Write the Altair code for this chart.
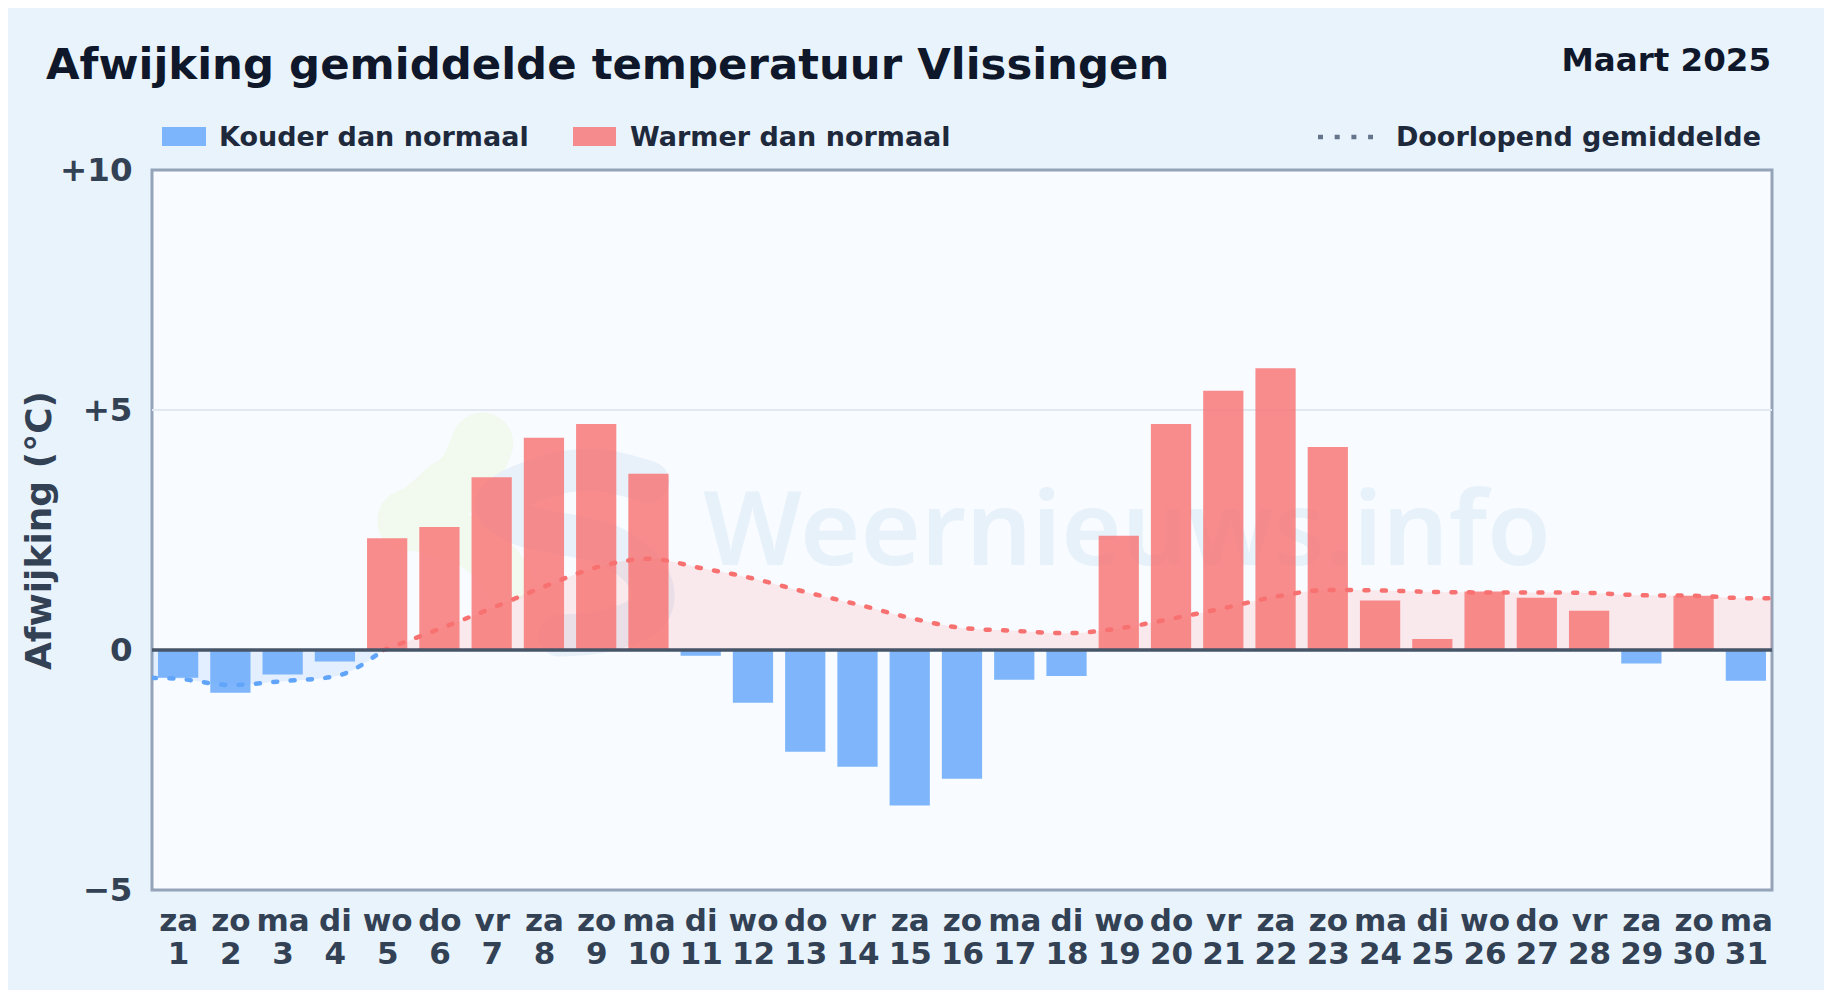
import altair as alt
import pandas as pd

DOW = ["za","zo","ma","di","wo","do","vr","za","zo","ma","di","wo","do","vr","za","zo","ma","di","wo","do","vr","za","zo","ma","di","wo","do","vr","za","zo","ma"]
DAYS = list(range(1, 32))
DEV = [-0.58,-0.89,-0.51,-0.24,2.33,2.56,3.60,4.42,4.71,3.67,-0.12,-1.10,-2.12,-2.43,-3.24,-2.68,-0.62,-0.54,2.38,4.71,5.40,5.87,4.23,1.03,0.23,1.22,1.09,0.82,-0.28,1.13,-0.64]

COLD_X = [0.5,1,2,3,4,4.93]
COLD_Y = [-0.58,-0.60,-0.73,-0.65,-0.55,0.0]
WARM_X = [4.93,6,7,8,9,10,11,12,13,14,15,16,17,18,19,20,21,22,23,24,25,26,27,28,29,30,31,31.5]
WARM_Y = [0.0,0.44,0.87,1.32,1.72,1.90,1.71,1.49,1.21,0.95,0.67,0.46,0.40,0.35,0.45,0.65,0.87,1.11,1.25,1.24,1.21,1.20,1.20,1.19,1.14,1.13,1.08,1.08]

LOGO_GREEN_X = [6.82,6.6,6.15,5.6,5.4]
LOGO_GREEN_Y = [4.3,3.75,3.3,2.8,2.7]
LOGO_GREEN2_X = [5.5,6.9,7.3]
LOGO_GREEN2_Y = [2.6,2.0,1.5]
LOGO_BLUE_X = [10.0,9.0,8.0,7.1,7.6,9.2,10.0,10.0,9.2,8.3]
LOGO_BLUE_Y = [3.5,3.75,3.6,3.1,2.6,2.2,1.5,0.8,0.4,0.3]

BG = "#e8f3fc"
PANEL = "#f8fbff"
RED = "#f87171"
BLUE = "#60a5fa"
INK = "#0f172a"
SLATE = "#334155"
LEG = "#1e293b"
FONT = "DejaVu Sans"

X0, X1 = 0.5, 31.5
x_scale = alt.Scale(domain=[X0, X1], nice=False, zero=False, padding=0)
y_scale = alt.Scale(domain=[-5, 10], nice=False, zero=False, padding=0)

dow_str = " ".join(DOW)
x_axis = alt.Axis(
    values=DAYS, title=None, domain=False, ticks=False, grid=False,
    labelExpr=f"[split('{dow_str}',' ')[datum.value-1], ''+datum.value]",
    labelFontSize=31, labelFont=FONT, labelFontWeight="bold", labelColor=SLATE,
    labelPadding=16, labelLineHeight=33.5, labelOverlap=False, labelFlush=False, labelBound=False,
    labelAngle=0,
)
y_axis = alt.Axis(
    values=[-5, 0, 5, 10], title="Afwijking (°C)", domain=False, ticks=False, grid=False,
    labelExpr="datum.value>0 ? '+'+datum.value : (datum.value<0 ? '−'+abs(datum.value) : '0')",
    labelFontSize=32.5, labelFont=FONT, labelFontWeight="bold", labelColor=SLATE, labelPadding=20,
    titleFontSize=36, titleFont=FONT, titleFontWeight="bold", titleColor=SLATE,
    titleX=-113, titleY=360, titleBaseline="middle", titleAlign="center", titleAngle=270,
)

bars = pd.DataFrame({"day": DAYS, "dev": DEV, "base": [0] * 31})
bars["x0"] = bars.day - 0.385
bars["x1"] = bars.day + 0.385
bars["kind"] = ["warm" if v > 0 else "cold" for v in DEV]

cold = pd.DataFrame({"x": COLD_X, "y": COLD_Y, "base": [0] * len(COLD_X)})
warm = pd.DataFrame({"x": WARM_X, "y": WARM_Y, "base": [0] * len(WARM_X)})
kinds = alt.Color("kind:N", legend=None, scale=alt.Scale(domain=["cold", "warm"], range=[BLUE, RED]))

axes_layer = alt.Chart(bars).mark_point(opacity=0).encode(
    x=alt.X("day:Q", scale=x_scale, axis=x_axis),
    y=alt.Y("dev:Q", scale=y_scale, axis=y_axis),
)

def px(name):
    return alt.X(f"{name}:Q", scale=x_scale)

def py(name):
    return alt.Y(f"{name}:Q", scale=y_scale)

def blob(xs, ys, color, width, interp):
    return alt.Chart(pd.DataFrame({"x": xs, "y": ys, "o": range(len(xs))})).mark_line(
        color=color, strokeWidth=width, strokeCap="round", strokeJoin="round", interpolate=interp
    ).encode(x=px("x"), y=py("y"), order="o:Q")

logo_g = blob(LOGO_GREEN_X, LOGO_GREEN_Y, "#f2f9ef", 62, "monotone")
logo_g2 = blob(LOGO_GREEN2_X, LOGO_GREEN2_Y, "#f2f9ef", 50, "monotone")
logo_b = blob(LOGO_BLUE_X, LOGO_BLUE_Y, "#e8f1fa", 42, "cardinal")

wm = alt.Chart(pd.DataFrame({"x": [19.16], "y": [1.77], "t": ["Weernieuws.info"]})).mark_text(
    font="Noto Sans", fontSize=103.5, fontWeight=600, color="#e7f1fa", align="center", baseline="alphabetic"
).encode(x=px("x"), y=py("y"), text="t:N")

area_c = alt.Chart(cold).mark_area(color=BLUE, opacity=0.14, interpolate="monotone").encode(
    x=px("x"), y=py("y"), y2="base:Q")
area_w = alt.Chart(warm).mark_area(color="#ff6b6b", opacity=0.13, interpolate="monotone").encode(
    x=px("x"), y=py("y"), y2="base:Q")

grid = alt.Chart(pd.DataFrame({"y": [5]})).mark_rule(color="#e2e8f0", strokeWidth=2).encode(y=py("y"))

bar_layer = alt.Chart(bars).mark_bar(opacity=0.8).encode(
    x=px("x0"), x2="x1:Q", y=py("dev"), y2="base:Q", color=kinds)

DASH = [4, 13.4]
line_c = alt.Chart(cold).mark_line(color=BLUE, strokeWidth=4.5, strokeDash=DASH, strokeCap="round", interpolate="monotone", clip=True).encode(
    x=px("x"), y=py("y"))
line_w = alt.Chart(warm).mark_line(color=RED, strokeWidth=4.5, strokeDash=DASH, strokeCap="round", interpolate="monotone", clip=True).encode(
    x=px("x"), y=py("y"))

zero = alt.Chart(pd.DataFrame({"y": [0]})).mark_rule(color="#475569", strokeWidth=3.5).encode(y=py("y"))


def label(text, x, y, size, color, align="left"):
    return alt.Chart(pd.DataFrame({"t": [text]})).mark_text(
        font=FONT, fontWeight="bold", fontSize=size, color=color, align=align, baseline="alphabetic"
    ).encode(text="t:N", x=alt.value(x), y=alt.value(y))


def swatch(x, x2, color):
    return alt.Chart(pd.DataFrame({"k": [1]})).mark_rect(color=color, opacity=0.8).encode(
        x=alt.value(x), x2=alt.value(x2), y=alt.value(-43), y2=alt.value(-24))

title = label("Afwijking gemiddelde temperatuur Vlissingen", -106, -91, 43.4, INK)
month = label("Maart 2025", 1619, -99, 32.5, INK, "right")
leg1 = label("Kouder dan normaal", 67, -24, 27, LEG)
leg2 = label("Warmer dan normaal", 478, -24, 27, LEG)
leg3 = label("Doorlopend gemiddelde", 1609, -24, 27, LEG, "right")
dots = alt.Chart(pd.DataFrame({"k": [1]})).mark_rule(color="#64748b", strokeWidth=4.5, strokeDash=[5, 11.7]).encode(
    x=alt.value(1166), x2=alt.value(1221), y=alt.value(-33))

chart = alt.layer(
    axes_layer, logo_g, logo_g2, logo_b, wm, area_c, area_w, grid, bar_layer, line_c, line_w, zero,
    title, month, swatch(10, 54, BLUE), leg1, swatch(421, 464, RED), leg2, dots, leg3,
).properties(
    width=1620, height=720,
    background=BG,
    padding={"left": 144, "top": 162, "right": 52, "bottom": 100},
    autosize=alt.AutoSizeParams(type="none"),
).configure_view(stroke="#94a3b8", strokeWidth=3, fill=PANEL)

chart.save("out.html", embed_options={"renderer": "svg", "actions": False})
